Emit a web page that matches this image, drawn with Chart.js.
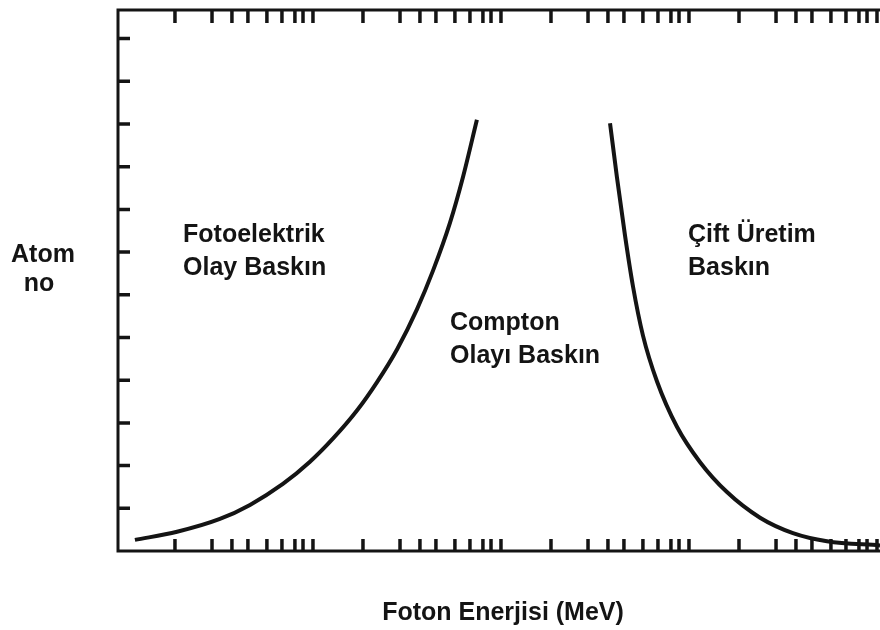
<!DOCTYPE html>
<html lang="tr">
<head>
<meta charset="UTF-8">
<meta name="viewport" content="width=device-width, initial-scale=1.0">
<title>Atom no - Foton Enerjisi</title>
<script src="https://cdn.jsdelivr.net/npm/chart.js@4.4.2/dist/chart.umd.min.js"></script>
<style>
    body {
        margin: 0;
        background-color: white;
    }
    .wrap {
        width: 880px;
        height: 630px;
        position: relative;
    }
</style>
</head>
<body>
<div class="wrap"><canvas id="chart"></canvas></div>
<script>
    // x = log10(E / MeV), y = atom numarasi (Z)
    let decadeStarts = [-2, -1, 0, 1];
    let minorOffsets = [0, 0.197, 0.303, 0.388, 0.489, 0.569, 0.638, 0.681, 0.734];
    let zTicks = [10, 20, 30, 40, 50, 60, 70, 80, 90, 100, 110, 120];

    // fotoelektrik / compton siniri
    let fotoX = [-2.213, -1.989, -1.761, -1.601, -1.426, -1.282, -1.160, -1.032, -0.926, -0.819, -0.713, -0.628, -0.537, -0.468, -0.394];
    let fotoZ = [2.6, 4.5, 7.5, 10.8, 15.7, 20.9, 26.3, 32.9, 39.5, 47.2, 56.6, 65.6, 76.9, 87.6, 101.0];

    // compton / cift uretim siniri
    let ciftX = [0.314, 0.351, 0.394, 0.436, 0.489, 0.564, 0.670, 0.793, 0.936, 1.112, 1.287, 1.468, 1.750];
    let ciftZ = [100.2, 87.5, 73.8, 62.0, 50.5, 39.7, 29.1, 20.8, 13.8, 7.8, 4.2, 2.3, 1.3];

    let regionText = [
        ['Fotoelektrik', 'Olay Baskın'],
        ['Compton', 'Olayı Baskın'],
        ['Çift Üretim', 'Baskın']
    ];
    let xTitle = 'Foton Enerjisi (MeV)';
    let yTitle = ['Atom', 'no'];

    function toPoints(xs, ys) {
        return xs.map((x, i) => ({ x: x, y: ys[i] }));
    }

    let tickValues = [];
    decadeStarts.forEach(d => minorOffsets.forEach(o => tickValues.push(d + o)));

    const FONT = 'bold 25px "Liberation Sans", Arial, sans-serif';
    const INK = '#141414';

    // frame, inward ticks and all texts
    const framePlugin = {
        id: 'frame',
        afterDraw(chart) {
            let ctx = chart.ctx;
            let a = chart.chartArea;
            let xs = chart.scales.x, ys = chart.scales.y;
            ctx.save();
            ctx.strokeStyle = INK;
            ctx.lineWidth = 3;
            ctx.beginPath();
            ctx.moveTo(a.right, a.top);
            ctx.lineTo(a.left, a.top);
            ctx.lineTo(a.left, a.bottom);
            ctx.lineTo(a.right, a.bottom);
            ctx.stroke();

            ctx.lineWidth = 3.5;
            ctx.beginPath();
            tickValues.forEach(v => {
                let px = xs.getPixelForValue(v);
                if (px < a.left + 4 || px > a.right) return;
                ctx.moveTo(px, a.top);
                ctx.lineTo(px, a.top + 13);
                ctx.moveTo(px, a.bottom);
                ctx.lineTo(px, a.bottom - 12);
            });
            zTicks.forEach(v => {
                let py = ys.getPixelForValue(v);
                ctx.moveTo(a.left, py);
                ctx.lineTo(a.left + 12, py);
            });
            ctx.stroke();

            ctx.fillStyle = INK;
            ctx.font = FONT;
            ctx.textBaseline = 'alphabetic';
            ctx.textAlign = 'left';
            let anchors = [[-1.957, 72.4], [-0.537, 51.8], [0.729, 72.4]];
            regionText.forEach((lines, i) => {
                let px = xs.getPixelForValue(anchors[i][0]);
                let py = ys.getPixelForValue(anchors[i][1]);
                lines.forEach((t, j) => ctx.fillText(t, px, py + j * 33));
            });

            ctx.textAlign = 'center';
            ctx.fillText(yTitle[0], 43, 262);
            ctx.fillText(yTitle[1], 39, 291);
            ctx.fillText(xTitle, 503, 620);
            ctx.restore();
        }
    };

    let ctx = document.getElementById('chart').getContext('2d');
    new Chart(ctx, {
        type: 'line',
        data: {
            datasets: [{
                label: 'Fotoelektrik / Compton',
                data: toPoints(fotoX, fotoZ),
                borderColor: INK,
                borderWidth: 4,
                pointRadius: 0,
                cubicInterpolationMode: 'monotone'
            }, {
                label: 'Compton / Çift Üretim',
                data: toPoints(ciftX, ciftZ),
                borderColor: INK,
                borderWidth: 4,
                pointRadius: 0,
                cubicInterpolationMode: 'monotone'
            }]
        },
        options: {
            responsive: true,
            maintainAspectRatio: false,
            animation: false,
            layout: { padding: { left: 118, top: 10, right: 0, bottom: 79 } },
            plugins: {
                legend: { display: false },
                tooltip: { enabled: false }
            },
            scales: {
                x: { type: 'linear', min: -2.303, max: 1.75, display: false },
                y: { type: 'linear', min: 0, max: 126.7, display: false }
            }
        },
        plugins: [framePlugin]
    });
</script>
</body>
</html>
